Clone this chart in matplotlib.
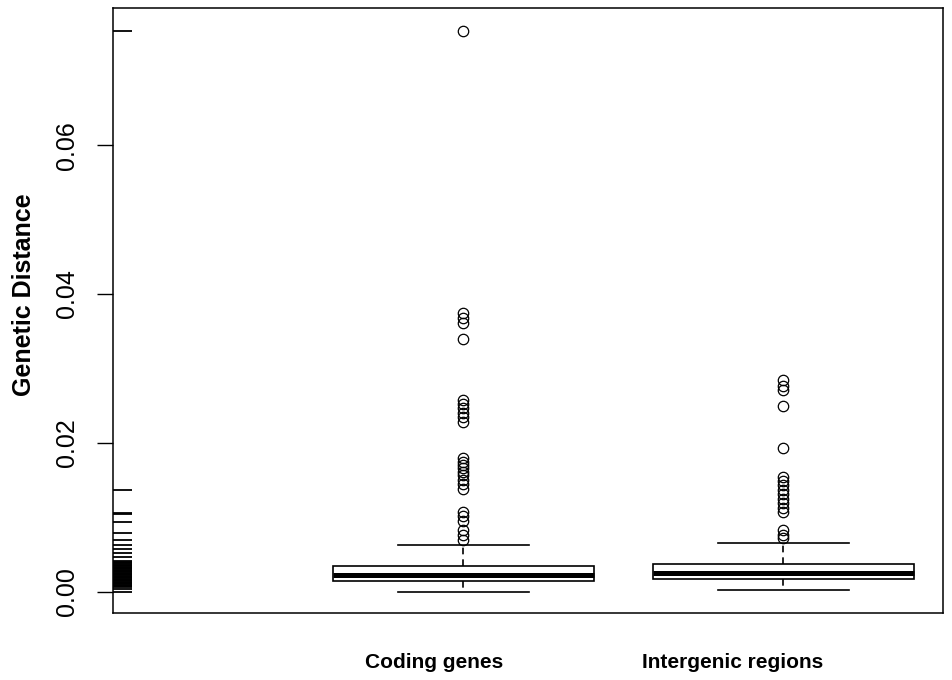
import matplotlib
matplotlib.use('Agg')
import matplotlib.pyplot as plt
from matplotlib.transforms import blended_transform_factory

plt.rcParams['font.family'] = ['Liberation Sans', 'DejaVu Sans']

# box statistics
groups = ['Coding genes', 'Intergenic regions']
positions = [1, 2]
whislo = [0.0000, 0.0002]
q1 = [0.00146, 0.00168]
med = [0.00222, 0.00245]
q3 = [0.00347, 0.0037]
whishi = [0.00625, 0.00652]

coding_out = [0.0754, 0.0374, 0.0368, 0.0361, 0.0339,
              0.0257, 0.0252, 0.0247, 0.0240, 0.0235, 0.0228,
              0.0180, 0.0174, 0.0170, 0.0166, 0.0161, 0.0156, 0.0150, 0.0145, 0.0138,
              0.0107, 0.0102, 0.0095, 0.0083, 0.0076, 0.0069]
intergenic_out = [0.0284, 0.0277, 0.0271, 0.0250, 0.0193,
                  0.0154, 0.0149, 0.0143, 0.0136, 0.0131, 0.0124, 0.0119, 0.0112, 0.0107,
                  0.0083, 0.0076, 0.0072]
fliers = [coding_out, intergenic_out]

# rug on the y axis
rug_vals = [0.0754, 0.0136, 0.0106, 0.0104, 0.0093, 0.0079, 0.0069, 0.0063,
            0.0057, 0.0052, 0.0046,
            0.0041, 0.0040, 0.0039, 0.0038, 0.0036, 0.0035, 0.0034, 0.0033,
            0.0032, 0.0031, 0.0030, 0.0029, 0.0028, 0.0027, 0.0026, 0.0025,
            0.0024, 0.0023, 0.0022, 0.0021, 0.0020, 0.0019, 0.0018, 0.0017,
            0.0016, 0.0015, 0.0014, 0.0013, 0.0012, 0.0011, 0.0010, 0.0009,
            0.0008, 0.0007, 0.0006,
            0.0003, 0.0000]

yticks = [0.00, 0.02, 0.04, 0.06]

fig = plt.figure(figsize=(9.53, 6.80), dpi=100)
ax = fig.add_axes([113/953, 1-613/680, 830/953, 605/680])

stats = []
for i in range(len(groups)):
    stats.append(dict(whislo=whislo[i], q1=q1[i], med=med[i], q3=q3[i],
                      whishi=whishi[i], fliers=fliers[i], label=groups[i]))

ax.bxp(stats, positions=positions, widths=0.816, patch_artist=True,
       showfliers=True,
       boxprops=dict(facecolor='white', edgecolor='black', linewidth=1.2),
       medianprops=dict(color='black', linewidth=3.6, solid_capstyle='butt'),
       whiskerprops=dict(color='black', linewidth=1.2, linestyle=(0, (4, 3))),
       capprops=dict(color='black', linewidth=1.2),
       capwidths=0.41,
       flierprops=dict(marker='o', markerfacecolor='none', markeredgecolor='black',
                       markersize=7.5, markeredgewidth=0.9, linestyle='none'))

trans_y = ax.get_yaxis_transform()
for v in rug_vals:
    ax.plot([0, 0.023], [v, v], color='black', linewidth=1.3,
            transform=trans_y, solid_capstyle='butt')

ax.set_xlim(-0.095, 2.5)
ax.set_ylim(-0.00289, 0.07846)
ax.set_xticks([])
ax.set_yticks(yticks)
ax.set_yticklabels(['0.00', '0.02', '0.04', '0.06'], rotation=90, va='center',
                   fontsize=18)
ax.tick_params(axis='y', length=11.5, width=1, pad=13)
for s in ax.spines.values():
    s.set_linewidth(1.1)

trans_x = blended_transform_factory(ax.transData, ax.transAxes)
for p, g in zip(positions, groups):
    ax.text(p + 0.125, -0.0909, g, transform=trans_x, ha='right', va='baseline',
            fontsize=15, fontweight='bold')

fig.text(24/953, 1-294.5/680, 'Genetic Distance', rotation=90, ha='center',
         va='center', fontsize=18, fontweight='bold')

fig.savefig('out.png', dpi=100)
